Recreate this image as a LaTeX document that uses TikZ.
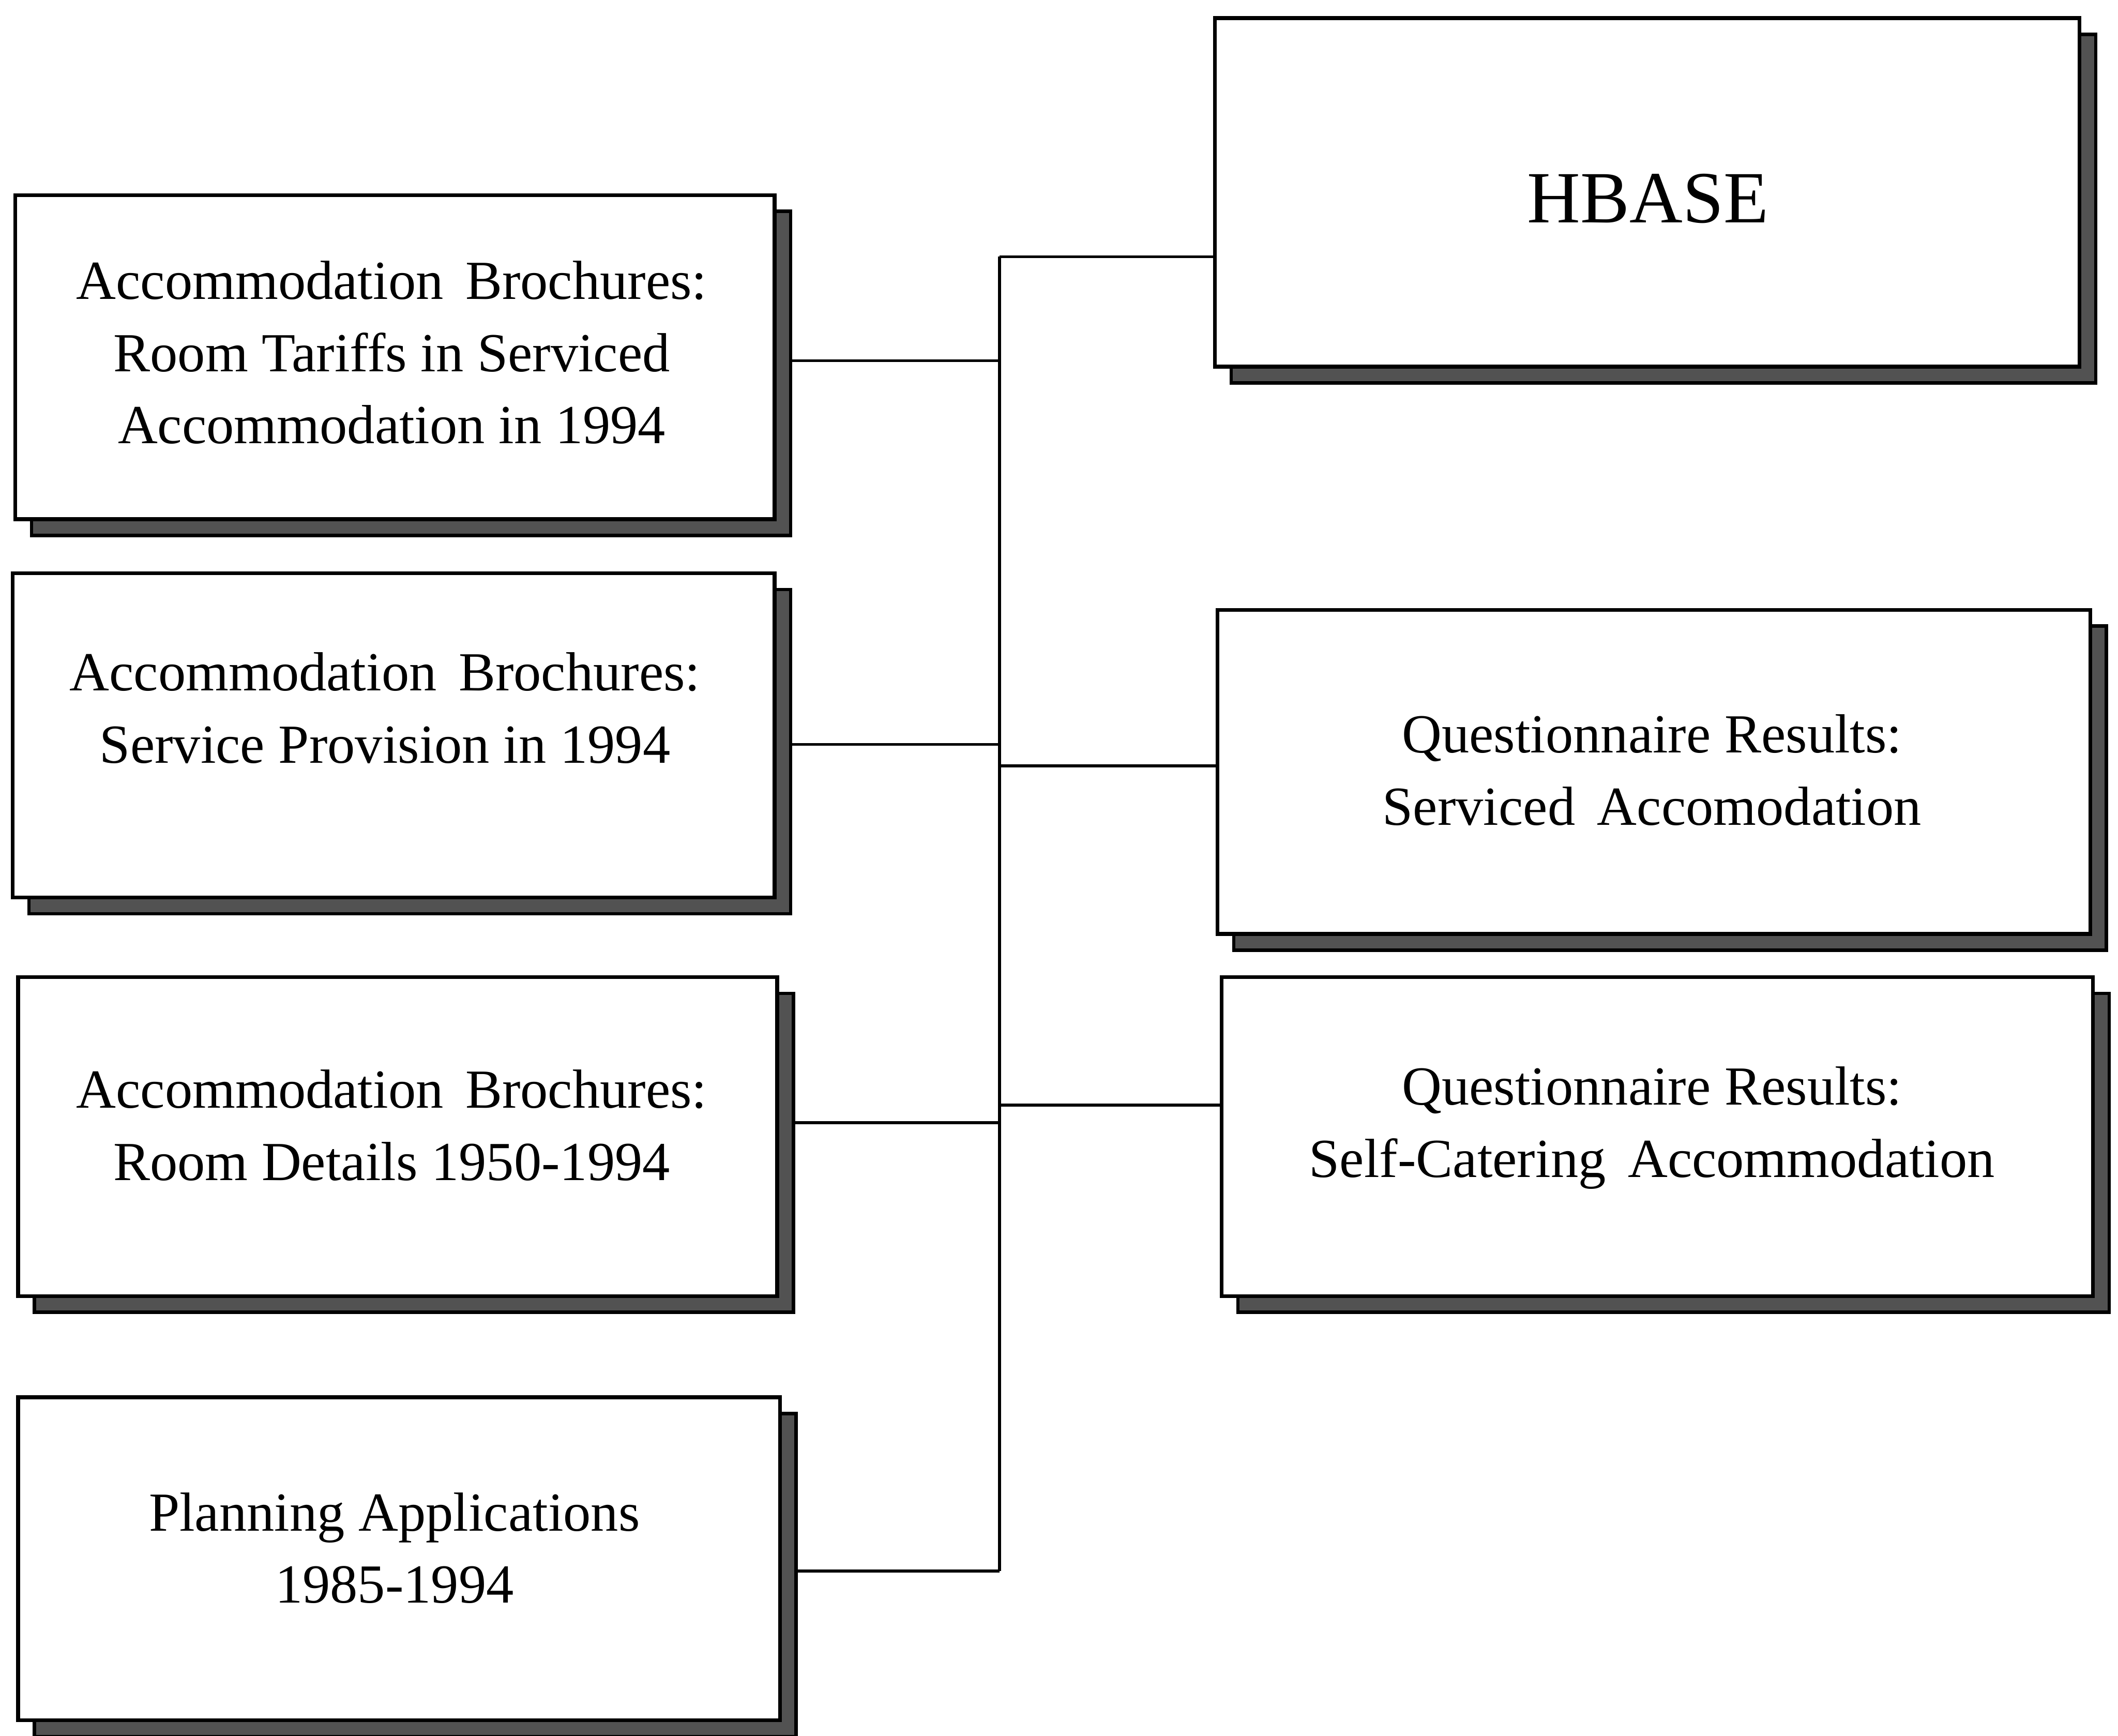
\documentclass[tikz,border=0pt]{standalone}
\usepackage{fontspec}
\setmainfont{Liberation Serif}
\usetikzlibrary{shadows}
\pgfdeclarelayer{bg}
\pgfsetlayers{bg,main}

\tikzset{
  box/.style={draw=black, line width=0.8pt, fill=white, anchor=north west,
    inner sep=0pt,
    copy shadow={shadow xshift=1.2mm, shadow yshift=-1.2mm,
      draw=black, line width=0.7pt, fill=black!68}},
  boxtext/.style={align=center, inner sep=0pt,
    font=\fontsize{11.6}{15.2}\selectfont},
  titletext/.style={inner sep=0pt, font=\fontsize{15.5}{18}\selectfont},
  link/.style={draw=black, line width=0.6pt},
}

\begin{document}
\begin{tikzpicture}
\useasboundingbox (0,0) rectangle (15.68,-12.85);

% source boxes on the left
\node[box, minimum width=5.62cm, minimum height=2.40cm] (L1) at (0.10,-1.43) {};
\node[box, minimum width=5.64cm, minimum height=2.40cm] (L2) at (0.08,-4.23) {};
\node[box, minimum width=5.62cm, minimum height=2.36cm] (L3) at (0.12,-7.22) {};
\node[box, minimum width=5.64cm, minimum height=2.39cm] (L4) at (0.12,-10.33) {};

% database and questionnaire boxes on the right
\node[box, minimum width=6.40cm, minimum height=2.58cm] (HB) at (8.98,-0.12) {};
\node[box, minimum width=6.46cm, minimum height=2.40cm] (Q1) at (9.00,-4.50) {};
\node[box, minimum width=6.45cm, minimum height=2.36cm] (Q2) at (9.03,-7.22) {};

% box texts
\node[boxtext] (L1t) at (2.90,-2.61) {Accommodation\hskip.4em Brochures:\\Room Tariffs in Serviced\\Accommodation in 1994};
\node[boxtext] (L2t) at (2.85,-5.24) {Accommodation\hskip.4em Brochures:\\Service Provision in 1994};
\node[boxtext] (L3t) at (2.90,-8.33) {Accommodation\hskip.4em Brochures:\\Room Details 1950-1994};
\node[boxtext] (L4t) at (2.92,-11.46) {Planning Applications\\1985-1994};
\node[titletext] (HBt) at (12.20,-1.47) {HBASE};
\node[boxtext] (Q1t) at (12.23,-5.70) {Questionnaire Results:\\Serviced\hskip.4em Accomodation};
\node[boxtext] (Q2t) at (12.23,-8.35) {Questionnaire Results:\\Self-Catering\hskip.4em Accommodation};

% junction points on the vertical trunk
\coordinate (jH)  at (7.40,-1.90);
\coordinate (j1)  at (7.40,-2.67);
\coordinate (j2)  at (7.40,-5.51);
\coordinate (jQ1) at (7.40,-5.67);
\coordinate (jQ2) at (7.40,-8.18);
\coordinate (j3)  at (7.40,-8.31);
\coordinate (j4)  at (7.40,-11.63);

% connectors, kept behind the boxes and their shadows
\begin{pgfonlayer}{bg}
  \draw[link] (jH) -- (j4);
  \draw[link] (jH) -- (jH -| HB.west);
  \draw[link] (jQ1) -- (jQ1 -| Q1.west);
  \draw[link] (jQ2) -- (jQ2 -| Q2.west);
  \draw[link] (L1.east |- j1) -- (j1);
  \draw[link] (L2.east |- j2) -- (j2);
  \draw[link] (L3.east |- j3) -- (j3);
  \draw[link] (L4.east |- j4) -- (j4);
\end{pgfonlayer}
\end{tikzpicture}
\end{document}
